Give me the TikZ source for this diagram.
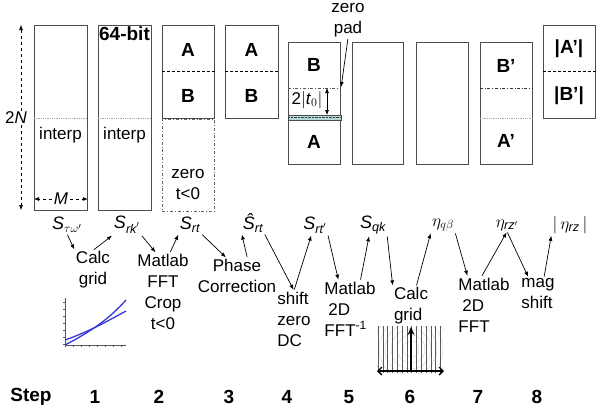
\documentclass[tikz,border=0pt]{standalone}
\usepackage{amsmath}
\usepackage{fontspec}
\setmainfont{Liberation Sans}
\usepackage{tikz}
\usetikzlibrary{arrows.meta}
\tikzset{>={Latex[width=4pt,length=5pt]}}
\definecolor{padcol}{RGB}{178,216,216}
\definecolor{curveblue}{RGB}{55,55,215}

\begin{document}
\begin{tikzpicture}[x=1pt, y=-1pt,
    txt/.style = {font=\fontsize{17}{21}\selectfont, inner sep=1pt},
    boldlbl/.style = {font=\fontsize{19}{23}\selectfont\bfseries, inner sep=1pt},
    sig/.style = {font=\fontsize{18}{21}\selectfont, inner sep=1pt},
    box/.style = {draw=black!70, line width=0.8pt, minimum width=52pt,
        anchor=north west, inner sep=0pt},
    tallbox/.style = {box, minimum height=185pt},
    shortbox/.style = {box, minimum height=93pt},
    midbox/.style = {box, minimum height=122pt},
    flow/.style = {->, line width=0.7pt, shorten <=1pt, shorten >=1pt},
    halfline/.style = {densely dashed, line width=0.6pt},
    interpline/.style = {densely dotted, gray!70, line width=0.8pt},
    padline/.style = {dash dot, line width=0.6pt, gray!70!black}
  ]
  \useasboundingbox (0,0) rectangle (601,413);

  % data boxes
  \node[tallbox, minimum width=53pt] (tw) at (34,25) {};
  \node[tallbox, minimum width=53pt] (rk) at (98,25) {};
  \node[shortbox] (rt) at (162,25) {};
  \node[box, minimum height=92pt, draw=black!60, dash dot] (rtz) at (rt.south west) {};
  \node[shortbox, minimum width=53pt] (rh) at (225,25) {};
  \node[midbox] (rp) at (288,42) {};
  \node[midbox, minimum width=51pt] (qk) at (352,42) {};
  \node[midbox] (qb) at (416,42) {};
  \node[midbox] (zp) at (480,42) {};
  \node[shortbox] (rz) at (543,25) {};

  % inside the boxes
  \draw[interpline] (tw.west |- 0,118) -- (tw.east |- 0,118);
  \draw[interpline] (rk.west |- 0,118) -- (rk.east |- 0,118);
  \node[txt] (ip1) at (60.5,135) {interp};
  \node[txt] (ip2) at (124.5,135) {interp};
  \node[boldlbl] (bits) at (124.5,34) {64-bit};

  \draw[halfline] (rt.west |- 0,71) -- (rt.east |- 0,71);
  \node[boldlbl] (rtA) at (188,50) {A};
  \node[boldlbl] (rtB) at (188,96) {B};
  \node[txt, align=center] (zneg) at (188,185) {zero\\t<0};

  \draw[halfline] (rh.west |- 0,71) -- (rh.east |- 0,71);
  \node[boldlbl] (rhA) at (251.5,50) {A};
  \node[boldlbl] (rhB) at (251.5,96) {B};

  \draw[padline] (rp.west |- 0,88) -- (rp.east |- 0,88);
  \filldraw[fill=padcol, draw=gray!60!black, line width=0.5pt]
    (rp.west |- 0,115) rectangle (rp.east |- 0,120);
  \draw[densely dotted, gray!50!black] (rp.west |- 0,117.5) -- (rp.east |- 0,117.5);
  \node[boldlbl] (rpB) at (314,65) {B};
  \node[boldlbl] (rpA) at (314,142) {A};
  \node[txt] (tnull) at (307,100) {2$|$\textit{t}$_0|$};
  \coordinate (gapTop) at (327,88);
  \coordinate (gapBot) at (327,115);
  \draw[<->, line width=0.6pt] (gapTop) -- (gapBot);
  \node[txt, align=center] (zpad) at (348,20) {zero\\pad};
  \coordinate (padEnd) at (341,88);
  \draw[flow] (zpad.south) -- (padEnd);

  \draw[padline, black!80] (zp.west |- 0,88) -- (zp.east |- 0,88);
  \draw[interpline] (zp.west |- 0,118) -- (zp.east |- 0,118);
  \node[boldlbl] (zpB) at (506,66) {B'};
  \node[boldlbl] (zpA) at (506,141) {A'};

  \draw[halfline] (rz.west |- 0,71) -- (rz.east |- 0,71);
  \node[boldlbl] (rzA) at (569,49) {|A'|};
  \node[boldlbl] (rzB) at (569,96) {|B'|};

  % sizes
  \node[txt] (twoN) at (16,118) {2\textit{N}};
  \coordinate (nTop) at (21,25);
  \coordinate (nBot) at (21,210);
  \draw[->, dashed, line width=0.6pt] (twoN.north -| nTop) -- (nTop);
  \draw[->, dashed, line width=0.6pt] (twoN.south -| nBot) -- (nBot);
  \node[txt, inner sep=2pt] (msize) at (61,199) {\textit{M}};
  \draw[->, dashed, line width=0.6pt] (msize.west) -- (tw.west |- msize);
  \draw[->, dashed, line width=0.6pt] (msize.east) -- (tw.east |- msize);

  % signals
  \node[sig] (s1) at (67,225) {\textit{S}$_{\tau\omega'}$};
  \node[sig] (s2) at (127,225) {\textit{S}$_{\textit{rk}'}$};
  \node[sig] (s3) at (190,225) {\textit{S}$_{\textit{rt}}$};
  \node[sig] (s4) at (253,223) {\textit{\^S}$_{\textit{rt}}$};
  \node[sig] (s5) at (315,225) {\textit{S}$_{\textit{rt}'}$};
  \node[sig] (s6) at (373,225) {\textit{S}$_{\textit{qk}}$};
  \node[sig] (s7) at (443,225) {$\eta_{q\beta}$};
  \node[sig] (s8) at (507,225) {$\eta_{\textit{rz}'}$};
  \node[sig] (s9) at (570,225) {$|\,\eta_{\textit{rz}}\,|$};

  % processing
  \node[txt, align=center] (p1) at (93,270) {Calc\\grid};
  \node[txt, align=center] (p2) at (163,292) {Matlab\\FFT\\Crop\\t<0};
  \node[txt, align=center] (p3) at (237,276) {Phase\\Correction};
  \node[txt, align=left] (p4) at (294,319) {shift\\zero\\DC};
  \node[txt, align=left] (p5) at (350,309) {Matlab\\\hspace{4pt}2D\\FFT$^{\text{-1}}$};
  \node[txt, align=left] (p6) at (411,306) {Calc\\grid};
  \node[txt, align=left] (p7) at (484,305) {Matlab\\\hspace{4pt}2D\\FFT};
  \node[txt, align=left] (p8) at (538,294) {mag\\shift};

  \draw[flow] (s1.south) -- (p1.north west);
  \draw[flow] (p1.north) -- (s2.south west);
  \draw[flow] (s2.south east) -- (p2.100);
  \draw[flow] (p2.80) -- (s3.south west);
  \draw[flow] (s3.south east) -- (p3.120);
  \draw[flow] (p3.60) -- (s4.south west);
  \draw[flow] (s4.south east) -- (p4.north);
  \draw[flow] (p4.north) -- (s5.250);
  \draw[flow] (s5.south east) -- (p5.112);
  \draw[flow] (p5.70) -- (s6.250);
  \draw[flow] (s6.south east) -- (p6.north west);
  \draw[flow] (p6.75) -- (s7.south west);
  \draw[flow] (s7.south east) -- (p7.120);
  \draw[flow] (p7.95) -- (s8.south);
  \draw[flow] (s8.south) -- (p8.120);
  \draw[flow] (p8.70) -- (s9.south west);

  % grid inset, step 1
  \draw[gray!70!black, line width=0.6pt] (65,298) -- (65,345) -- (126,345);
  \foreach \y in {302,309,...,345} \draw[gray!70!black] (63,\y) -- (65,\y);
  \foreach \x in {65,73,...,126} \draw[gray!70!black] (\x,345) -- (\x,347);
  \draw[curveblue, line width=1.3pt] (65,345) .. controls (92,331) and (110,318) .. (126,300);
  \draw[curveblue, line width=1.3pt] (65,340) .. controls (88,332) and (106,322) .. (126,311);

  % grid inset, step 6
  \begin{scope}
    \clip (377,326) rectangle (444,373);
    \foreach \r in {8,14,...,62} \draw[gray!35, line width=0.4pt] (411,349) circle (\r);
    \foreach \x in {378,382.8,...,444} \draw[gray!70!black, line width=0.5pt] (\x,326) -- (\x,373);
  \end{scope}
  \draw[-{Stealth[length=8pt,width=7pt]}, line width=1.6pt] (411,372) -- (411,327);
  \draw[{Straight Barb[length=4pt,width=8pt]}-{Straight Barb[length=4pt,width=8pt]}, line width=1.3pt]
    (377,371) -- (444,371);

  % step numbers
  \node[boldlbl] (steps) at (31,397) {Step};
  \foreach \n/\x in {1/95, 2/159, 3/229, 4/287, 5/349, 6/410, 7/478, 8/537}
    \node[boldlbl] (st\n) at (\x,397) {\n};
\end{tikzpicture}
\end{document}
